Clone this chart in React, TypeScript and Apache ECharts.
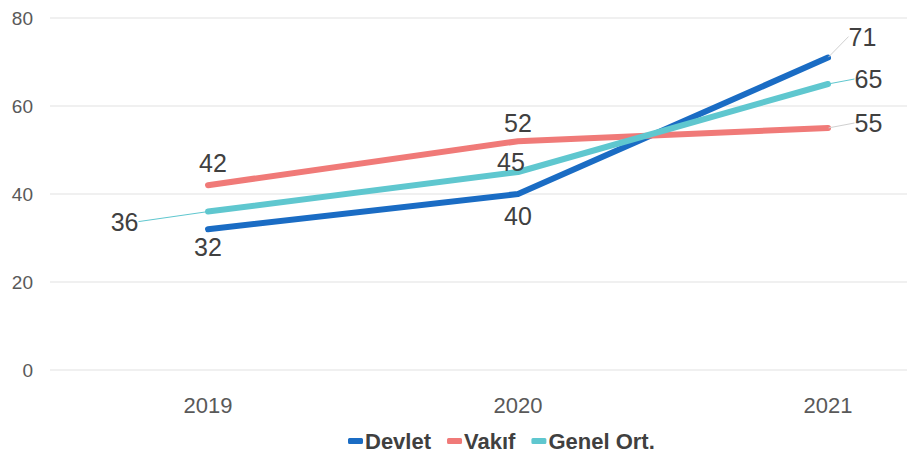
import React, { useEffect, useRef } from "react";
import * as echarts from "echarts";

const categories = ["2019", "2020", "2021"];
const devlet = [32, 40, 71];
const vakif = [42, 52, 55];
const genel = [36, 45, 65];
const yTicks = { min: 0, max: 80, interval: 20 };

const FONT = "'Liberation Sans', Arial, sans-serif";

// label placement per point: position, nudge [dx, dy], leader line
const devletLabels = [
  { position: "bottom", nudge: [0, 0], leader: false },
  { position: "bottom", nudge: [0, 4], leader: false },
  { position: "right", nudge: [15, -21], leader: true },
];
const vakifLabels = [
  { position: "top", nudge: [5, -4], leader: false },
  { position: "top", nudge: [0, 0], leader: false },
  { position: "right", nudge: [21, -5], leader: true },
];
const genelLabels = [
  { position: "left", nudge: [-64, 10], leader: true },
  { position: "top", nudge: [-7, 8], leader: false },
  { position: "right", nudge: [21, -5], leader: true },
];

export default function App() {
  const ref = useRef<HTMLDivElement>(null);
  useEffect(() => {
    if (!ref.current) return;
    const chart = echarts.init(ref.current, null, { renderer: "svg" });
    const labelBase = {
      show: true,
      fontFamily: FONT,
      fontSize: 25,
      color: "#404040",
      distance: 5,
    };
    const mk = (vals: number[], cfg: any[]) =>
      vals.map((v, i) => ({
        value: v,
        label: { position: cfg[i].position },
        labelLine: { show: cfg[i].leader },
      }));
    const layout = (cfg: any[]) => (p: any) => ({
      dx: cfg[p.dataIndex].nudge[0],
      dy: cfg[p.dataIndex].nudge[1],
    });
    const common = {
      type: "line",
      symbol: "circle",
      symbolSize: 1,
      showSymbol: true,
      label: labelBase,
      xAxisIndex: 1,
      yAxisIndex: 1,
    };
    chart.setOption({
      animation: false,
      backgroundColor: "#ffffff",
      grid: [
        { left: 50, right: 7, top: 18, bottom: 87, containLabel: false },
        { left: 208, right: 86, top: 18, bottom: 87, containLabel: false },
      ],
      legend: {
        top: 425,
        left: 343,
        itemWidth: 15,
        itemHeight: 6,
        itemGap: 16,
        icon: "roundRect",
        textStyle: {
          fontFamily: FONT,
          fontSize: 22,
          fontWeight: "bold",
          color: "#404040",
          padding: [0, 0, 0, -3],
        },
        data: ["Devlet", "Vakıf", "Genel Ort."],
      },
      xAxis: [
        {
          gridIndex: 0,
          type: "category",
          data: categories,
          show: false,
        },
        {
          gridIndex: 1,
          type: "category",
          data: categories,
          boundaryGap: false,
          axisLine: { show: false },
          axisTick: { show: false },
          splitLine: { show: false },
          axisLabel: {
            margin: 24,
            fontFamily: FONT,
            fontSize: 22,
            color: "#595959",
          },
        },
      ],
      yAxis: [
        {
          gridIndex: 0,
          type: "value",
          min: yTicks.min,
          max: yTicks.max,
          interval: yTicks.interval,
          axisLine: { show: false },
          axisTick: { show: false },
          splitLine: { lineStyle: { color: "#ebebeb", width: 1.5 } },
          axisLabel: {
            margin: 17,
            fontFamily: FONT,
            fontSize: 19,
            color: "#595959",
          },
        },
        {
          gridIndex: 1,
          type: "value",
          min: yTicks.min,
          max: yTicks.max,
          interval: yTicks.interval,
          show: false,
          splitLine: { show: false },
        },
      ],
      series: [
        {
          ...common,
          name: "Devlet",
          lineStyle: { width: 6, color: "#1a6cc4", cap: "round", join: "round" },
          itemStyle: { color: "#1a6cc4" },
          labelLine: { show: true, lineStyle: { color: "#d0d0d0", width: 1 } },
          labelLayout: layout(devletLabels),
          data: mk(devlet, devletLabels),
          z: 2,
        },
        {
          ...common,
          name: "Vakıf",
          lineStyle: { width: 6, color: "#f07a78", cap: "round", join: "round" },
          itemStyle: { color: "#f07a78" },
          labelLine: { show: true, lineStyle: { color: "#d0d0d0", width: 1 } },
          labelLayout: layout(vakifLabels),
          data: mk(vakif, vakifLabels),
          z: 3,
        },
        {
          ...common,
          name: "Genel Ort.",
          lineStyle: { width: 6, color: "#5fc7cf", cap: "round", join: "round" },
          itemStyle: { color: "#5fc7cf" },
          labelLine: { show: true, lineStyle: { color: "#5fc7cf", width: 1 } },
          labelLayout: layout(genelLabels),
          data: mk(genel, genelLabels),
          z: 4,
        },
      ],
    });
    return () => chart.dispose();
  }, []);
  return (
    <div
      ref={ref}
      style={{ position: "fixed", left: 0, top: 0, width: 914, height: 457 }}
    />
  );
}
